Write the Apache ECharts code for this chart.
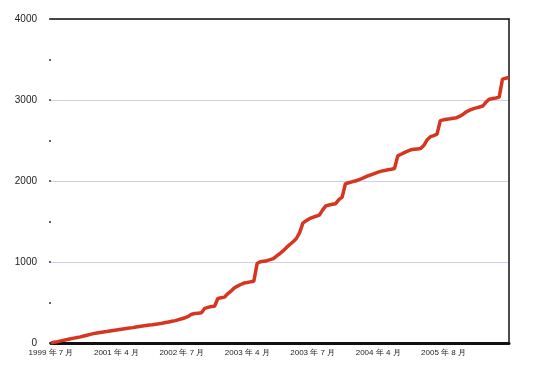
<!DOCTYPE html>
<html>
<head>
<meta charset="utf-8">
<script src="https://cdn.jsdelivr.net/npm/echarts@6/dist/echarts.min.js"></script>
<style>
html,body{margin:0;padding:0;background:#fff;}
#chart{width:538px;height:371px;}
</style>
</head>
<body>
<div id="chart"></div>
<script>
// Cumulative values, one per step along the x axis (index 0..140)
const values = [
  0, 9, 17, 26, 35, 43, 52, 60, 68, 76,
  86, 96, 106, 116, 123, 129, 135, 141, 148, 154,
  160, 166, 172, 178, 184, 190, 197, 203, 209, 215,
  221, 226, 232, 237, 244, 252, 260, 268, 276, 288,
  300, 312, 328, 356, 363, 368, 373, 428, 440, 450,
  454, 550, 558, 566, 607, 640, 680, 702, 722, 740,
  747, 755, 762, 980, 1004, 1010, 1016, 1030, 1042, 1075,
  1105, 1140, 1180, 1216, 1250, 1290, 1362, 1480, 1510, 1535,
  1550, 1565, 1578, 1640, 1693, 1703, 1712, 1720, 1770, 1800,
  1966, 1978, 1990, 2000, 2015, 2030, 2048, 2065, 2080, 2095,
  2110, 2122, 2130, 2138, 2145, 2155, 2310, 2330, 2350, 2368,
  2385, 2392, 2396, 2400, 2440, 2510, 2547, 2560, 2578, 2745,
  2755, 2762, 2768, 2775, 2782, 2800, 2825, 2855, 2875, 2890,
  2902, 2914, 2926, 2975, 3010, 3018, 3025, 3035, 3258, 3268,
  3280
];
// Tick labels placed every 20 steps on the x axis
const xTickLabels = ['1999 年 7 月', '2001 年 4 月', '2002 年 7 月', '2003 年 4 月', '2003 年 7 月', '2004 年 4 月', '2005 年 8 月'];
const yTicks = [0, 1000, 2000, 3000, 4000];

const seriesData = values.map((v, i) => [i, v]);

const chart = echarts.init(document.getElementById('chart'), null, {renderer: 'canvas'});
chart.setOption({
  animation: false,
  backgroundColor: '#ffffff',
  grid: {left: 51, right: 29, top: 19, bottom: 28, containLabel: false},
  xAxis: [{
    type: 'value',
    min: 0, max: 140, interval: 20,
    axisLine: {show: true, onZero: false, lineStyle: {color: '#111', width: 3}},
    axisTick: {show: false},
    splitLine: {show: false},
    axisLabel: {
      show: true, margin: 6, fontSize: 8, color: '#222',
      fontFamily: 'Liberation Sans, Arial, sans-serif',
      showMinLabel: true, showMaxLabel: true,
      formatter: function (v) { const k = Math.round(v / 20); return xTickLabels[k] || ''; }
    }
  }, {
    type: 'value', position: 'top',
    min: 0, max: 140,
    axisLine: {show: true, onZero: false, lineStyle: {color: '#111', width: 1.5}},
    axisTick: {show: false}, axisLabel: {show: false}, splitLine: {show: false}
  }],
  yAxis: [{
    type: 'value',
    min: yTicks[0], max: yTicks[yTicks.length - 1], interval: 1000,
    axisLine: {show: false, onZero: false},
    axisTick: {show: true, length: 2, lineStyle: {color: '#333', width: 1.5}},
    minorTick: {show: true, splitNumber: 2, length: 2, lineStyle: {color: '#333', width: 1.5}},
    splitLine: {show: true, lineStyle: {color: '#d0d0e6', width: 1}},
    axisLabel: {margin: 14, fontSize: 10, color: '#222', fontFamily: 'Liberation Sans, Arial, sans-serif',
      formatter: function (v) { return String(v); }}
  }, {
    type: 'value', position: 'right',
    min: 0, max: 4000,
    axisLine: {show: true, onZero: false, lineStyle: {color: '#111', width: 1.5}},
    axisTick: {show: false}, axisLabel: {show: false}, splitLine: {show: false}
  }],
  series: [{
    type: 'line',
    data: seriesData,
    xAxisIndex: 0, yAxisIndex: 0,
    showSymbol: false,
    symbol: 'none',
    lineStyle: {color: '#d6361f', width: 3.5},
    z: 5
  }]
});
</script>
</body>
</html>
